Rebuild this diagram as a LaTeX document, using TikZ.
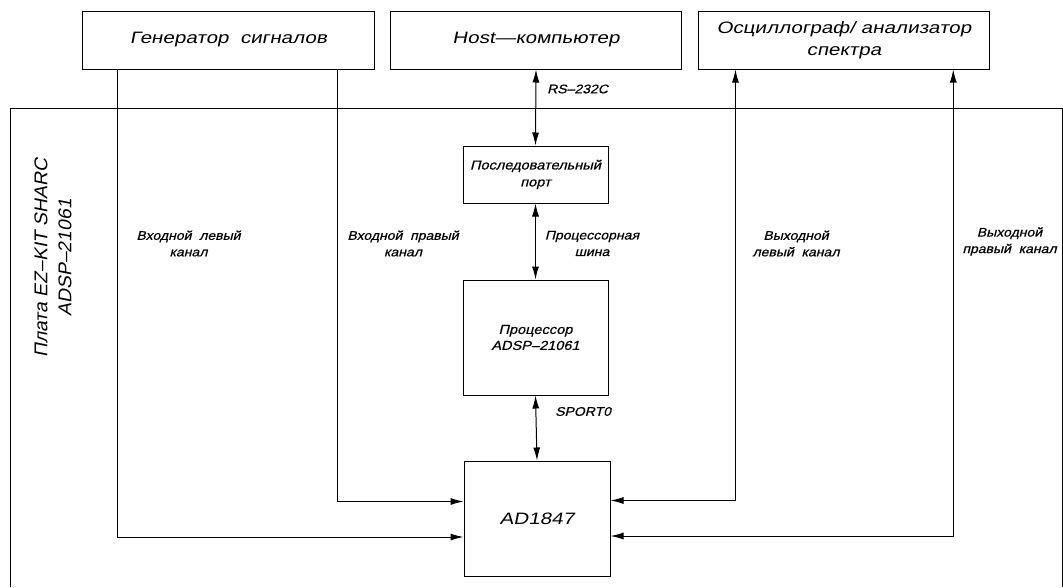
\documentclass[tikz,border=0pt]{standalone}
\usepackage{fontspec}
\newfontfamily\cad[FakeStretch=1.25,FakeSlant=0.2]{Liberation Sans}
\newfontfamily\cadr[FakeStretch=1.05,FakeSlant=0.2]{Liberation Sans}
\newfontfamily\cadb[FakeStretch=1.12,FakeSlant=0.25,FakeBold=0.6]{Liberation Sans}
\usetikzlibrary{arrows.meta}
\begin{document}
\begin{tikzpicture}[x=1pt,y=-1pt,
  ln/.style={line width=1pt, draw=black},
  box/.style={ln, minimum width=291.5pt, minimum height=58pt, inner sep=0pt, align=center, font=\cad\fontsize{16.5}{22}\selectfont},
  blk/.style={ln, minimum width=145pt, inner sep=0pt, align=center},
  lbl/.style={align=center, inner sep=0pt, font=\cadb\fontsize{12.5}{16.5}\selectfont},
  tip/.style={-{Latex[length=13pt,width=7pt]}},
  tips/.style={{Latex[length=13pt,width=7pt]}-{Latex[length=13pt,width=7pt]}}
]
\useasboundingbox (0,0) rectangle (1063,587);
% board outline (bottom edge lies below the picture)
\draw[ln] (10,587) |- (1062,108) -- (1062,587);
\node[rotate=90, align=center, inner sep=0pt, font=\cadr\fontsize{18.5}{24}\selectfont] (board) at (53,258) {Плата EZ–KIT SHARC\\ADSP–21061};

% top boxes
\node[box] (gen) at (228.5,40) {Генератор\ \ сигналов};
\node[box] (host) at (536,40) {Host—компьютер};
\node[box] (osc) at (844,40) {Осциллограф/\ анализатор\\спектра};

% inner blocks
\node[blk, minimum height=57pt, font=\cadb\fontsize{13}{17}\selectfont] (ser) at (535.5,174.5) {Последовательный\\порт};
\node[blk, minimum height=115pt, font=\cadb\fontsize{13}{16}\selectfont] (proc) at (535.5,337.5) {Процессор\\ADSP–21061};
\node[blk, minimum width=146pt, minimum height=115pt, font=\cad\fontsize{16.5}{22}\selectfont] (ad) at (537,518.5) {AD1847};

% bus connectors
\draw[ln,tips] (host.south) -- (ser.north);
\draw[ln,tips] (ser.south) -- (proc.north);
\draw[ln,tips] (proc.south) -- (ad.north);

\node[lbl, anchor=west] (rs) at (547,89) {RS–232C};
\node[lbl] (bus) at (592,243.5) {Процессорная\\шина};
\node[lbl, anchor=west] (sp) at (555,411.5) {SPORT0};

% inputs
\draw[ln,tip] ([xshift=35.5pt]gen.south west) |- ([yshift=-18.5pt]ad.west);
\draw[ln,tip] ([xshift=-37pt]gen.south east) |- ([yshift=17pt]ad.west);
% outputs
\draw[ln,tips] ([yshift=18pt]ad.east) -| ([xshift=37.7pt]osc.south west);
\draw[ln,tips] ([yshift=-17.5pt]ad.east) -| ([xshift=-37pt]osc.south east);

\node[lbl] (inl) at (188.5,243.5) {Входной\ \ левый\\канал};
\node[lbl] (inr) at (403,243.5) {Входной\ \ правый\\канал};
\node[lbl] (outl) at (796,243.5) {Выходной\\левый\ \ канал};
\node[lbl] (outr) at (1009.5,241.5) {Выходной\\правый\ \ канал};
\end{tikzpicture}
\end{document}
